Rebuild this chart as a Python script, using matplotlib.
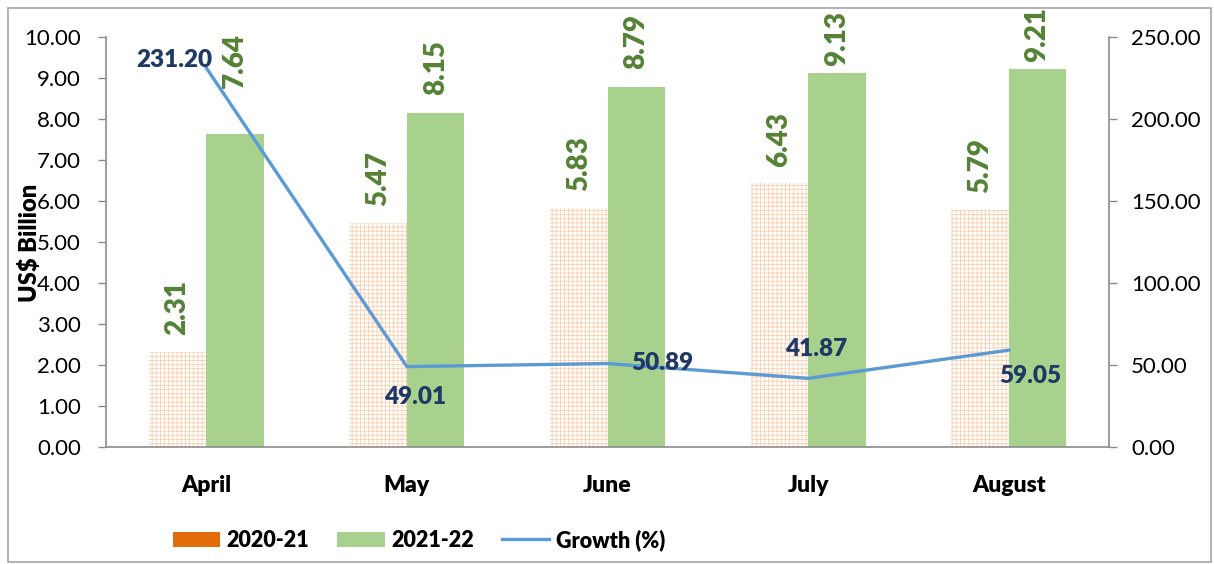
import numpy as np
import matplotlib
matplotlib.use('Agg')
from matplotlib import pyplot as plt
from matplotlib.patches import Rectangle, Patch
from matplotlib.lines import Line2D

months = ['April', 'May', 'June', 'July', 'August']
exports_2020 = [2.31, 5.47, 5.83, 6.43, 5.79]
exports_2021 = [7.64, 8.15, 8.79, 9.13, 9.21]
growth = [231.20, 49.01, 50.89, 41.87, 59.05]

plt.rcParams['font.family'] = ['Lato', 'DejaVu Sans']
plt.rcParams['hatch.linewidth'] = 0.6

GREEN = '#a9d18e'
GREEN_TXT = '#548235'
ORANGE = '#e46c0a'
HATCH = '#f9cfae'
BLUE = '#5b9bd5'
NAVY = '#1f3864'
AXIS = '#8c8c8c'
BOLD = 'heavy'

fig = plt.figure(figsize=(12.14, 5.64), dpi=100)
W, H = 1214, 564
ax = fig.add_axes([106 / W, 1 - 447 / H, (1109 - 106) / W, (447 - 37) / H])

ind = np.arange(len(months))
width = 0.287
ax.bar(ind - width / 2, exports_2020, width, facecolor='white', edgecolor=HATCH,
       hatch='++++', linewidth=0)
ax.bar(ind + width / 2, exports_2021, width, color=GREEN, linewidth=0)

ax.set_xlim(-0.5, len(months) - 0.5)
ax.set_ylim(0, 10)
ax.set_yticks(np.arange(0, 11, 1))
ax.set_yticklabels(['%.2f' % v for v in np.arange(0, 11, 1)], fontsize=16)
ax.set_xticks(ind)
ax.set_xticklabels(months, fontsize=16.5, fontweight=BOLD)
ax.tick_params(axis='x', length=0, pad=20)
ax.tick_params(axis='y', length=6, width=1, color=AXIS, pad=12)
for s in ['top', 'right']:
    ax.spines[s].set_visible(False)
for s in ['left', 'bottom']:
    ax.spines[s].set_color(AXIS)
    ax.spines[s].set_linewidth(1.2)

# bar labels (pixel gaps above bar top, a few moved by hand like the original)
px = 72 / 100
gap_2020 = [17, 17, 17, 16, 17]
gap_2021 = [46, 18, 18, 7, 7]
for i in range(len(months)):
    ax.annotate('%.2f' % exports_2020[i], (ind[i] - width / 2, exports_2020[i]),
                xytext=(0, gap_2020[i] * px), textcoords='offset points',
                rotation=90, ha='center', va='bottom', fontsize=20,
                fontweight=BOLD, color=GREEN_TXT, annotation_clip=False)
    ax.annotate('%.2f' % exports_2021[i], (ind[i] + width / 2, exports_2021[i]),
                xytext=(0, gap_2021[i] * px), textcoords='offset points',
                rotation=90, ha='center', va='bottom', fontsize=20,
                fontweight=BOLD, color=GREEN_TXT, annotation_clip=False)

ax2 = ax.twinx()
ax2.plot(ind, growth, color=BLUE, linewidth=2.4)
ax2.set_ylim(0, 250)
ax2.set_yticks(np.arange(0, 251, 50))
ax2.set_yticklabels(['%.2f' % v for v in np.arange(0, 251, 50)], fontsize=16)
ax2.tick_params(axis='y', length=6, width=1, color=AXIS, pad=10)
for s in ['top', 'left', 'bottom']:
    ax2.spines[s].set_visible(False)
ax2.spines['right'].set_color(AXIS)
ax2.spines['right'].set_linewidth(1.2)

# growth labels: offset of text centre from the point, in pixels
g_off = [(-32, 8), (8, -30), (55, 1), (8, 29), (22, -26)]
for i in range(len(months)):
    ax2.annotate('%.2f' % growth[i], (ind[i], growth[i]),
                 xytext=(g_off[i][0] * px, g_off[i][1] * px), textcoords='offset points',
                 ha='center', va='center', fontsize=17.5, fontweight=BOLD,
                 color=NAVY, annotation_clip=False)

fig.text(30 / W, 1 - 243 / H, 'US$ Billion', rotation=90, ha='center', va='center',
         fontsize=17, fontweight=BOLD)

handles = [Patch(facecolor=ORANGE, edgecolor='none'),
           Patch(facecolor=GREEN, edgecolor='none'),
           Line2D([], [], color=BLUE, linewidth=2.4)]
fig.legend(handles, ['2020-21', '2021-22', 'Growth (%)'], loc='center',
           bbox_to_anchor=(419 / W, 1 - 540 / H), ncol=3, frameon=False,
           prop={'size': 15.5, 'weight': BOLD}, handlelength=2.2, handleheight=0.7,
           handletextpad=0.3, columnspacing=1.3)

fig.patches.append(Rectangle((8 / W, 2 / H), (1211 - 8) / W, (556 - 2) / H,
                             transform=fig.transFigure, fill=False,
                             edgecolor='#a6a6a6', linewidth=1.2))

fig.savefig('out.png', dpi=100)
